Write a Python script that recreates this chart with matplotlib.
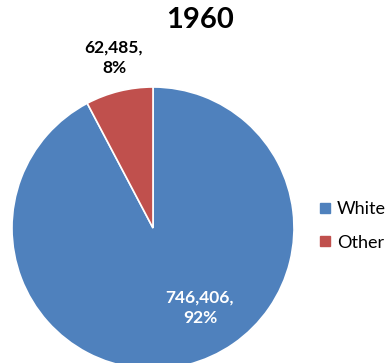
import matplotlib
matplotlib.use("Agg")
from matplotlib import pyplot as plt
from matplotlib.lines import Line2D

plt.rcParams['font.family'] = ['Lato', 'DejaVu Sans']

title = "1960"
groups = ["White", "Other"]
counts = [746406, 62485]
shares = [92, 8]
colors = ["#4F81BD", "#C0504D"]

fig = plt.figure(figsize=(3.88, 3.63), dpi=100)
# pie center ~ (153, 228) px, radius ~141 px
ax = fig.add_axes([12 / 388, (135 - 141) / 363, 282 / 388, 282 / 363])
wedges, _ = ax.pie(counts, colors=colors, startangle=90, counterclock=False,
                   wedgeprops=dict(edgecolor="white", linewidth=1.2))
ax.set_xlim(-1, 1)
ax.set_ylim(-1, 1)
ax.set_aspect("equal")

# data labels
lab_pos = [(0.333, -0.567), (-0.277, 1.206)]
lab_col = ["white", "black"]
for n, s, (x, y), c in zip(counts, shares, lab_pos, lab_col):
    ax.text(x, y, f"{n:,},\n{s}%", ha="center", va="center", fontsize=12.5,
            fontweight="bold", color=c, linespacing=1.35, clip_on=False)

fig.text(200 / 388, 1 - 20 / 363, title, ha="center", va="center",
         fontsize=21, fontweight="bold")

handles = [Line2D([], [], marker="s", linestyle="", markersize=7,
                  markerfacecolor=c, markeredgecolor=c) for c in colors]
fig.legend(handles, groups, loc="center left",
           bbox_to_anchor=(318 / 388, 1 - 226 / 363), frameon=False,
           fontsize=13, handletextpad=0.25, labelspacing=0.95,
           handlelength=0.8, borderpad=0, borderaxespad=0)

fig.savefig("out.png", dpi=100)
